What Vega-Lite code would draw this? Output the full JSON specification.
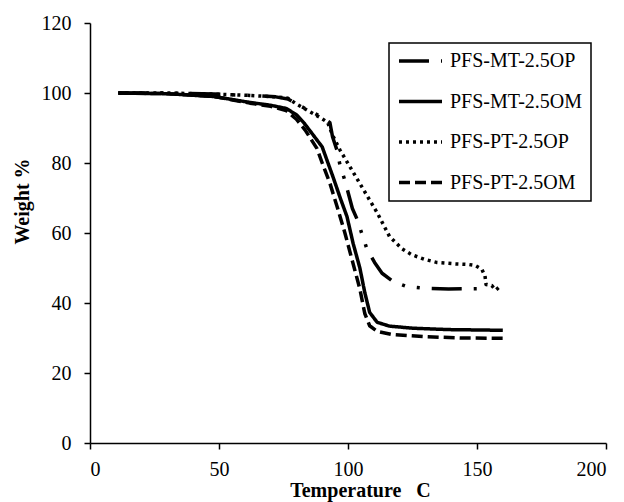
{
  "$schema": "https://vega.github.io/schema/vega-lite/v6.json",
  "width": 516,
  "height": 420,
  "autosize": {"type": "none"},
  "padding": {"left": 90, "top": 23, "right": 18, "bottom": 59},
  "background": "white",
  "config": {
    "view": {"stroke": null},
    "font": "Times New Roman",
    "axis": {
      "grid": false,
      "domainColor": "black",
      "domainWidth": 1.5,
      "tickColor": "black",
      "tickWidth": 1.5,
      "tickSize": 6,
      "labelFont": "Times New Roman",
      "labelFontSize": 20,
      "labelColor": "black",
      "titleFont": "Times New Roman",
      "titleFontSize": 20,
      "titleFontWeight": "bold",
      "titleColor": "black"
    }
  },
  "data": {
    "values": [
      {"series": "PFS-MT-2.5OM", "t": 11, "w": 100},
      {"series": "PFS-MT-2.5OM", "t": 30, "w": 99.8},
      {"series": "PFS-MT-2.5OM", "t": 48, "w": 99.0},
      {"series": "PFS-MT-2.5OM", "t": 62, "w": 97.3},
      {"series": "PFS-MT-2.5OM", "t": 70, "w": 96.5},
      {"series": "PFS-MT-2.5OM", "t": 76, "w": 95.6},
      {"series": "PFS-MT-2.5OM", "t": 80, "w": 93.8},
      {"series": "PFS-MT-2.5OM", "t": 83, "w": 91.4},
      {"series": "PFS-MT-2.5OM", "t": 86.5, "w": 88},
      {"series": "PFS-MT-2.5OM", "t": 90, "w": 84.6},
      {"series": "PFS-MT-2.5OM", "t": 92, "w": 80.5},
      {"series": "PFS-MT-2.5OM", "t": 94.2, "w": 76},
      {"series": "PFS-MT-2.5OM", "t": 97, "w": 70},
      {"series": "PFS-MT-2.5OM", "t": 99.6, "w": 64.7},
      {"series": "PFS-MT-2.5OM", "t": 102, "w": 57},
      {"series": "PFS-MT-2.5OM", "t": 104.6, "w": 50},
      {"series": "PFS-MT-2.5OM", "t": 106.5, "w": 43},
      {"series": "PFS-MT-2.5OM", "t": 108.4, "w": 37.3},
      {"series": "PFS-MT-2.5OM", "t": 111.3, "w": 34.5},
      {"series": "PFS-MT-2.5OM", "t": 116, "w": 33.4},
      {"series": "PFS-MT-2.5OM", "t": 125, "w": 32.8},
      {"series": "PFS-MT-2.5OM", "t": 139, "w": 32.4},
      {"series": "PFS-MT-2.5OM", "t": 150, "w": 32.3},
      {"series": "PFS-MT-2.5OM", "t": 160, "w": 32.2},

      {"series": "PFS-PT-2.5OM", "t": 11, "w": 100},
      {"series": "PFS-PT-2.5OM", "t": 30, "w": 99.8},
      {"series": "PFS-PT-2.5OM", "t": 48, "w": 99.0},
      {"series": "PFS-PT-2.5OM", "t": 62, "w": 97.1},
      {"series": "PFS-PT-2.5OM", "t": 70, "w": 96.2},
      {"series": "PFS-PT-2.5OM", "t": 76, "w": 95.0},
      {"series": "PFS-PT-2.5OM", "t": 80, "w": 92.5},
      {"series": "PFS-PT-2.5OM", "t": 83.4, "w": 89.4},
      {"series": "PFS-PT-2.5OM", "t": 88, "w": 84.1},
      {"series": "PFS-PT-2.5OM", "t": 90, "w": 80},
      {"series": "PFS-PT-2.5OM", "t": 93, "w": 74.2},
      {"series": "PFS-PT-2.5OM", "t": 96, "w": 67},
      {"series": "PFS-PT-2.5OM", "t": 98.8, "w": 60},
      {"series": "PFS-PT-2.5OM", "t": 101.7, "w": 52},
      {"series": "PFS-PT-2.5OM", "t": 104.6, "w": 44},
      {"series": "PFS-PT-2.5OM", "t": 106.5, "w": 37},
      {"series": "PFS-PT-2.5OM", "t": 108.4, "w": 33.5},
      {"series": "PFS-PT-2.5OM", "t": 111.3, "w": 31.9},
      {"series": "PFS-PT-2.5OM", "t": 117, "w": 31.0},
      {"series": "PFS-PT-2.5OM", "t": 129.5, "w": 30.4},
      {"series": "PFS-PT-2.5OM", "t": 144, "w": 30.0},
      {"series": "PFS-PT-2.5OM", "t": 160, "w": 29.9},

      {"series": "PFS-PT-2.5OP", "t": 11, "w": 100},
      {"series": "PFS-PT-2.5OP", "t": 30, "w": 100},
      {"series": "PFS-PT-2.5OP", "t": 48, "w": 99.7},
      {"series": "PFS-PT-2.5OP", "t": 62, "w": 99.3},
      {"series": "PFS-PT-2.5OP", "t": 72, "w": 98.9},
      {"series": "PFS-PT-2.5OP", "t": 76.7, "w": 98.5},
      {"series": "PFS-PT-2.5OP", "t": 80.6, "w": 96.6},
      {"series": "PFS-PT-2.5OP", "t": 84.4, "w": 95.0},
      {"series": "PFS-PT-2.5OP", "t": 89.2, "w": 93.0},
      {"series": "PFS-PT-2.5OP", "t": 92.1, "w": 91.6},
      {"series": "PFS-PT-2.5OP", "t": 94, "w": 88},
      {"series": "PFS-PT-2.5OP", "t": 96.9, "w": 83.7},
      {"series": "PFS-PT-2.5OP", "t": 100.7, "w": 79},
      {"series": "PFS-PT-2.5OP", "t": 105.5, "w": 73},
      {"series": "PFS-PT-2.5OP", "t": 111.3, "w": 65.8},
      {"series": "PFS-PT-2.5OP", "t": 116.1, "w": 59},
      {"series": "PFS-PT-2.5OP", "t": 120.9, "w": 55.5},
      {"series": "PFS-PT-2.5OP", "t": 124.7, "w": 53.8},
      {"series": "PFS-PT-2.5OP", "t": 129.5, "w": 52.5},
      {"series": "PFS-PT-2.5OP", "t": 134.3, "w": 51.6},
      {"series": "PFS-PT-2.5OP", "t": 141, "w": 51.2},
      {"series": "PFS-PT-2.5OP", "t": 146.7, "w": 51.0},
      {"series": "PFS-PT-2.5OP", "t": 149.3, "w": 50.7},
      {"series": "PFS-PT-2.5OP", "t": 151.9, "w": 49.6},
      {"series": "PFS-PT-2.5OP", "t": 153.1, "w": 47.7},
      {"series": "PFS-PT-2.5OP", "t": 153.5, "w": 45.3},
      {"series": "PFS-PT-2.5OP", "t": 155.7, "w": 45.0},
      {"series": "PFS-PT-2.5OP", "t": 157.3, "w": 43.7},
      {"series": "PFS-PT-2.5OP", "t": 159.3, "w": 45.0},

      {"series": "PFS-MT-2.5OP", "t": 11, "w": 100},
      {"series": "PFS-MT-2.5OP", "t": 30, "w": 100},
      {"series": "PFS-MT-2.5OP", "t": 48, "w": 99.7},
      {"series": "PFS-MT-2.5OP", "t": 62, "w": 99.3},
      {"series": "PFS-MT-2.5OP", "t": 72, "w": 98.9},
      {"series": "PFS-MT-2.5OP", "t": 76.7, "w": 98.3},
      {"series": "PFS-MT-2.5OP", "t": 81.5, "w": 96.3},
      {"series": "PFS-MT-2.5OP", "t": 86.3, "w": 94.5},
      {"series": "PFS-MT-2.5OP", "t": 90.2, "w": 93.0},
      {"series": "PFS-MT-2.5OP", "t": 93, "w": 91.5},
      {"series": "PFS-MT-2.5OP", "t": 94, "w": 87.5},
      {"series": "PFS-MT-2.5OP", "t": 95.7, "w": 83.7},
      {"series": "PFS-MT-2.5OP", "t": 96.9, "w": 79.4},
      {"series": "PFS-MT-2.5OP", "t": 98.8, "w": 75},
      {"series": "PFS-MT-2.5OP", "t": 101.7, "w": 67},
      {"series": "PFS-MT-2.5OP", "t": 103.6, "w": 63.8},
      {"series": "PFS-MT-2.5OP", "t": 105.5, "w": 59.5},
      {"series": "PFS-MT-2.5OP", "t": 107.4, "w": 55.3},
      {"series": "PFS-MT-2.5OP", "t": 110.3, "w": 51.6},
      {"series": "PFS-MT-2.5OP", "t": 113.2, "w": 48.5},
      {"series": "PFS-MT-2.5OP", "t": 117.6, "w": 46.1},
      {"series": "PFS-MT-2.5OP", "t": 122.8, "w": 44.7},
      {"series": "PFS-MT-2.5OP", "t": 129.5, "w": 44.2},
      {"series": "PFS-MT-2.5OP", "t": 139, "w": 44.0},
      {"series": "PFS-MT-2.5OP", "t": 153, "w": 44.1}
    ]
  },
  "mark": {"type": "line", "color": "black", "strokeWidth": 3.5, "strokeCap": "butt", "strokeJoin": "round"},
  "encoding": {
    "x": {
      "field": "t", "type": "quantitative",
      "scale": {"domain": [0, 200], "nice": false, "zero": false},
      "axis": {"values": [0, 50, 100, 150, 200], "title": "Temperature \u00a0\u00a0C", "labelPadding": 10,
               "titleX": 270, "titleY": 53, "titleBaseline": "alphabetic", "titleAlign": "center"}
    },
    "y": {
      "field": "w", "type": "quantitative",
      "scale": {"domain": [0, 120], "nice": false},
      "axis": {"values": [0, 20, 40, 60, 80, 100, 120], "title": "Weight %", "labelPadding": 13,
               "titleX": -62, "titleY": 178, "titleBaseline": "alphabetic", "titleAlign": "center", "titleAngle": 270}
    },
    "strokeDash": {
      "field": "series", "type": "nominal",
      "scale": {
        "domain": ["PFS-MT-2.5OP", "PFS-MT-2.5OM", "PFS-PT-2.5OP", "PFS-PT-2.5OM"],
        "range": [[30, 12, 3, 12, 3, 12], [1, 0], [3, 4], [11, 5]]
      },
      "legend": {
        "title": null,
        "orient": "none",
        "legendX": 299,
        "legendY": 20,
        "strokeColor": "black",
        "fillColor": "white",
        "padding": 8,
        "rowPadding": 20.5,
        "clipHeight": 20,
        "symbolType": "stroke",
        "symbolSize": 1850,
        "symbolStrokeWidth": 3.5,
        "symbolStrokeColor": "black",
        "labelFont": "Times New Roman",
        "labelFontSize": 20,
        "labelColor": "black",
        "labelOffset": 6,
        "labelLimit": 300,
        "encode": {"legend": {"update": {"strokeWidth": {"value": 1.5}}}}
      }
    }
  }
}
